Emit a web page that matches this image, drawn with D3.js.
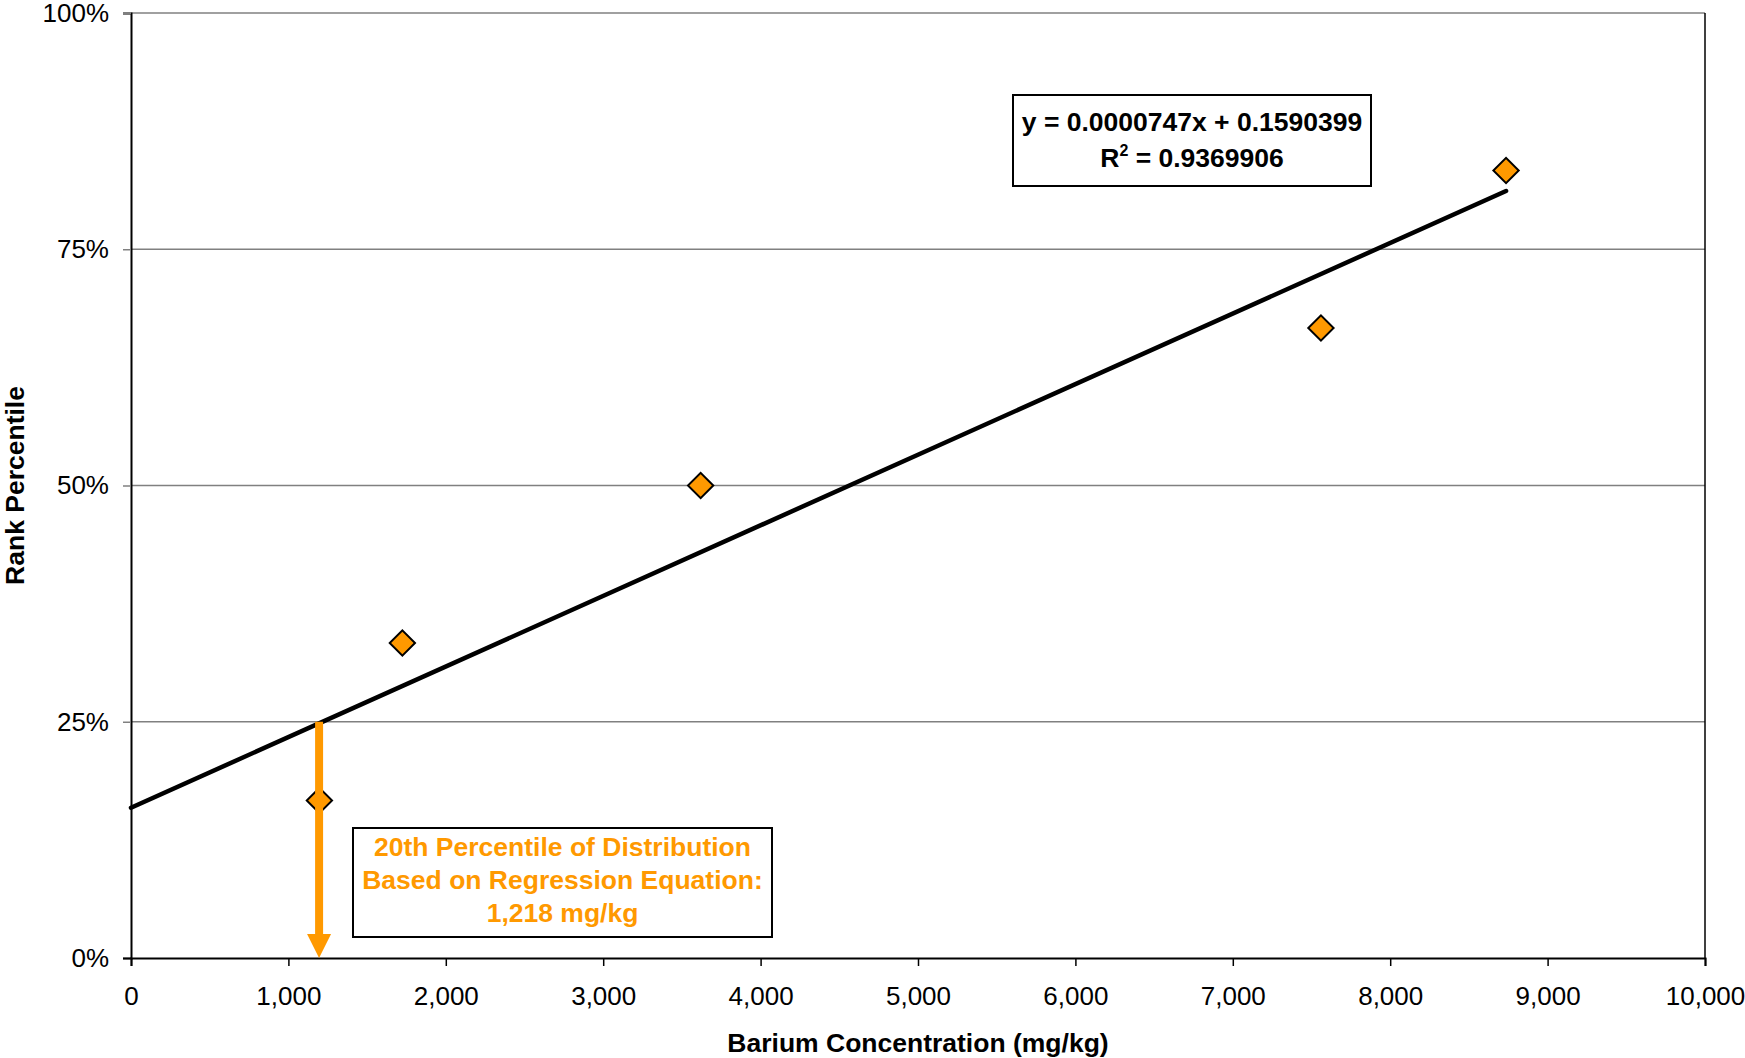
<!DOCTYPE html>
<meta charset="utf-8">
<script src="https://d3js.org/d3.v7.min.js"></script>
<style>
  body { margin: 0; background: #fff; }
  text { font-family: "Liberation Sans", Arial, sans-serif; }
</style>
<div id="chart"></div>
<script>
// data
var concentration = [1197, 1724, 3619, 7560, 8736];
var rankPercentile = [1/6, 2/6, 3/6, 4/6, 5/6];
var xTicks = [0, 1000, 2000, 3000, 4000, 5000, 6000, 7000, 8000, 9000, 10000];
var yTicks = [0, 0.25, 0.5, 0.75, 1];
var slope = 0.0000747, intercept = 0.1590399;
var eqLines = ["y = 0.0000747x + 0.1590399", "R2 = 0.9369906"];
var noteLines = ["20th Percentile of Distribution", "Based on Regression Equation:", "1,218 mg/kg"];
var arrowX = 1195; // arrow as drawn in the picture (hand-placed)

var W = 1745, H = 1058;
var margin = {top: 13, right: 40, bottom: 100, left: 131},
    width = W - margin.left - margin.right,
    height = H - margin.top - margin.bottom;

var svg = d3.select("#chart").append("svg")
    .attr("width", W).attr("height", H);
var g = svg.append("g")
    .attr("transform", "translate(" + margin.left + "," + margin.top + ")");

var x = d3.scaleLinear().domain([0, 10000]).range([0, width]);
var y = d3.scaleLinear().domain([0, 1]).range([height, 0]);

// gridlines
g.selectAll(".grid").data(yTicks.filter(function(d){ return d > 0; }))
  .enter().append("line")
    .attr("x1", 0).attr("x2", width)
    .attr("y1", function(d){ return y(d); }).attr("y2", function(d){ return y(d); })
    .attr("stroke", "#808080").attr("stroke-width", 1.5);

// right border
g.append("line").attr("x1", width).attr("x2", width).attr("y1", 0).attr("y2", height)
  .attr("stroke", "#000").attr("stroke-width", 1.5);

// y axis
var yAxis = g.append("g")
  .call(d3.axisLeft(y).tickValues(yTicks).tickSize(8).tickPadding(14)
        .tickFormat(d3.format(".0%")));
yAxis.select(".domain").attr("stroke", "#000").attr("stroke-width", 2);
yAxis.selectAll(".tick line").attr("stroke", function(d){ return d > 0 ? "#808080" : "#000"; })
  .attr("stroke-width", 1.5);
yAxis.selectAll("text").attr("font-size", 26).attr("fill", "#000")
  .style("font-family", "'Liberation Sans', Arial, sans-serif");

// x axis
var xAxis = g.append("g").attr("transform", "translate(0," + height + ")")
  .call(d3.axisBottom(x).tickValues(xTicks).tickSize(8).tickPadding(21)
        .tickFormat(d3.format(",")));
xAxis.select(".domain").attr("stroke", "#000").attr("stroke-width", 2);
xAxis.selectAll(".tick line").attr("stroke", "#000").attr("stroke-width", 1.5);
xAxis.selectAll("text").attr("font-size", 26).attr("fill", "#000")
  .style("font-family", "'Liberation Sans', Arial, sans-serif");

// axis titles
svg.append("text")
  .attr("x", margin.left + width / 2).attr("y", 1052)
  .attr("text-anchor", "middle").attr("font-size", 26.5).attr("font-weight", "bold")
  .text("Barium Concentration (mg/kg)");
svg.append("text")
  .attr("transform", "translate(24," + (margin.top + height / 2) + ") rotate(-90)")
  .attr("text-anchor", "middle").attr("font-size", 26.5).attr("font-weight", "bold")
  .text("Rank Percentile");

// regression line
var xMax = d3.max(concentration);
var line = d3.line().x(function(d){ return x(d); }).y(function(d){ return y(slope * d + intercept); });
g.append("path").datum([0, xMax])
  .attr("d", line).attr("fill", "none").attr("stroke", "#000")
  .attr("stroke-width", 4.5).attr("stroke-linecap", "round");

// data points
g.selectAll(".pt").data(concentration).enter().append("path")
  .attr("d", d3.symbol(d3.symbolSquare, 320))
  .attr("transform", function(d, i){ return "translate(" + x(d) + "," + y(rankPercentile[i]) + ") rotate(45)"; })
  .attr("fill", "#FF9900").attr("stroke", "#000").attr("stroke-width", 2);

// arrow down from the 25% line
var ax = x(arrowX), ay = y(0.25);
g.append("line").attr("x1", ax).attr("x2", ax).attr("y1", ay).attr("y2", height - 20)
  .attr("stroke", "#FF9900").attr("stroke-width", 8);
g.append("path")
  .attr("d", "M" + (ax - 12) + "," + (height - 24) + "L" + (ax + 12) + "," + (height - 24) + "L" + ax + "," + height + "Z")
  .attr("fill", "#FF9900");

// equation box
var eq = g.append("g").attr("transform", "translate(" + (1013 - margin.left) + "," + (95 - margin.top) + ")");
eq.append("rect").attr("width", 358).attr("height", 91)
  .attr("fill", "#fff").attr("stroke", "#000").attr("stroke-width", 2);
eq.append("text").attr("x", 179).attr("y", 36).attr("text-anchor", "middle")
  .attr("font-size", 26.5).attr("font-weight", "bold").text(eqLines[0]);
var r2 = eq.append("text").attr("x", 179).attr("y", 72).attr("text-anchor", "middle")
  .attr("font-size", 26.5).attr("font-weight", "bold");
r2.append("tspan").text("R");
r2.append("tspan").attr("dy", -11).attr("font-size", 16).text("2");
r2.append("tspan").attr("dy", 11).text(eqLines[1].slice(2));

// note box
var note = g.append("g").attr("transform", "translate(" + (353 - margin.left) + "," + (828 - margin.top) + ")");
note.append("rect").attr("width", 419).attr("height", 109)
  .attr("fill", "#fff").attr("stroke", "#000").attr("stroke-width", 2);
note.selectAll("text").data(noteLines).enter().append("text")
  .attr("x", 209.5).attr("y", function(d, i){ return 28 + i * 33; })
  .attr("text-anchor", "middle").attr("font-size", 26.5).attr("font-weight", "bold")
  .attr("fill", "#FF9900").text(function(d){ return d; });
</script>
